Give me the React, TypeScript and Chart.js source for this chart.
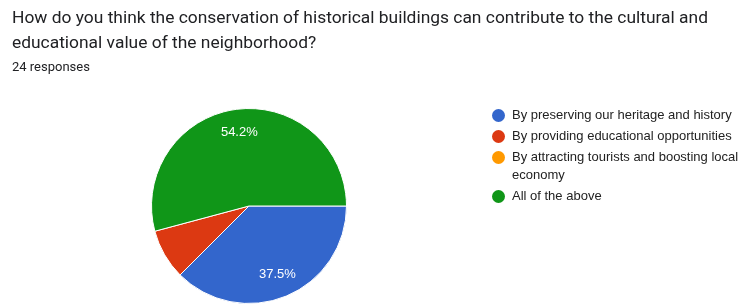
import React, { useEffect, useRef } from "react";
import { Chart, registerables } from "chart.js";

Chart.register(...registerables);

const questionTitle =
  "How do you think the conservation of historical buildings can contribute to the cultural and educational value of the neighborhood?";
const responseCountLabel = "24 responses";
const categories = [
  "By preserving our heritage and history",
  "By providing educational opportunities",
  "By attracting tourists and boosting local economy",
  "All of the above",
];
const responses = [9, 2, 0, 13];
const sliceColors = ["#3366cc", "#dc3912", "#ff9900", "#109618"];

const sliceLabelPlugin = {
  id: "sliceLabels",
  afterDatasetsDraw(chart: any) {
    const ctx = chart.ctx;
    const meta = chart.getDatasetMeta(0);
    const data = chart.data.datasets[0].data as number[];
    const total = data.reduce((a, b) => a + b, 0);
    ctx.save();
    ctx.font = "13px 'Liberation Sans', Arial, sans-serif";
    ctx.fillStyle = "#ffffff";
    ctx.textAlign = "center";
    ctx.textBaseline = "middle";
    meta.data.forEach((arc: any, i: number) => {
      const pct = (data[i] / total) * 100;
      if (pct < 10) return;
      const p = arc.getProps(["x", "y", "startAngle", "endAngle", "outerRadius"], true);
      const mid = (p.startAngle + p.endAngle) / 2;
      const r = p.outerRadius * 0.76;
      ctx.fillText(pct.toFixed(1) + "%", p.x + Math.cos(mid) * r, p.y + Math.sin(mid) * r);
    });
    ctx.restore();
  },
};

export default function App() {
  const canvasRef = useRef<HTMLCanvasElement | null>(null);

  useEffect(() => {
    if (!canvasRef.current) return;
    const chart = new Chart(canvasRef.current, {
      type: "pie",
      data: {
        labels: categories,
        datasets: [
          {
            data: responses,
            backgroundColor: sliceColors,
            borderColor: "#ffffff",
            borderWidth: 1,
          },
        ],
      },
      options: {
        responsive: false,
        animation: false,
        devicePixelRatio: 1,
        rotation: 90,
        layout: { padding: { left: 151, right: 393, top: 108, bottom: 0 } },
        plugins: {
          legend: { display: false },
          tooltip: { enabled: false },
          title: { display: false },
        },
      },
      plugins: [sliceLabelPlugin],
    });
    return () => chart.destroy();
  }, []);

  return (
    <div
      style={{
        position: "absolute",
        left: 0,
        top: 0,
        width: 740,
        height: 304,
        overflow: "hidden",
        background: "#ffffff",
      }}
    >
      <canvas
        ref={canvasRef}
        width={740}
        height={304}
        style={{ position: "absolute", left: 0, top: 0, width: 740, height: 304 }}
      />
      <div
        style={{
          position: "absolute",
          left: 12,
          top: 5,
          width: 725,
          fontFamily: "Roboto, sans-serif",
          fontSize: 17.4,
          lineHeight: "25px",
          color: "#202124",
        }}
      >
        {questionTitle}
      </div>
      <div
        style={{
          position: "absolute",
          left: 12,
          top: 58,
          fontFamily: "Roboto, sans-serif",
          fontSize: 13,
          lineHeight: "18px",
          color: "#202124",
        }}
      >
        {responseCountLabel}
      </div>
      <div
        style={{
          position: "absolute",
          left: 492,
          top: 106,
          fontFamily: "'Liberation Sans', Arial, sans-serif",
          fontSize: 13,
          color: "#222222",
        }}
      >
        {categories.map((c, i) => (
          <div key={c} style={{ display: "flex", alignItems: "flex-start", marginBottom: 3 }}>
            <span
              style={{
                display: "inline-block",
                width: 13,
                height: 13,
                borderRadius: "50%",
                background: sliceColors[i],
                marginTop: 2.5,
                marginRight: 7,
                flex: "0 0 auto",
              }}
            />
            <span style={{ width: 229, lineHeight: "18px" }}>{c}</span>
          </div>
        ))}
      </div>
    </div>
  );
}
